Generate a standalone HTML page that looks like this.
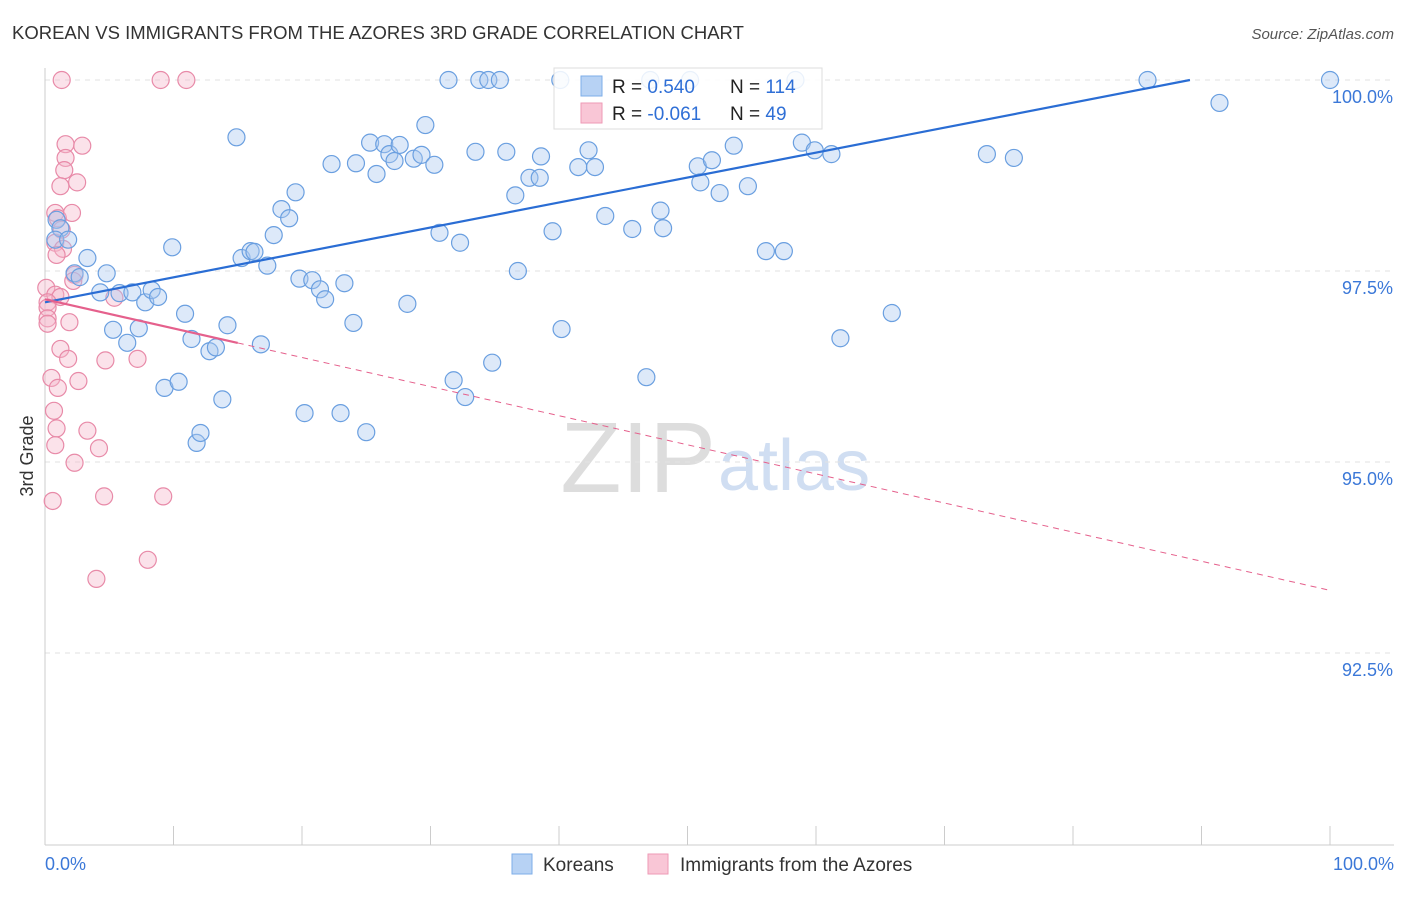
<!DOCTYPE html>
<html><head><meta charset="utf-8"><style>
body{margin:0;background:#fff;font-family:"Liberation Sans",sans-serif;}
svg text{font-family:"Liberation Sans",sans-serif;}
</style></head><body>
<svg id="chart" width="1406" height="892">
<text x="12" y="39" font-size="18.5" fill="#333">KOREAN VS IMMIGRANTS FROM THE AZORES 3RD GRADE CORRELATION CHART</text>
<text x="1394" y="39" font-size="15" fill="#555" font-style="italic" text-anchor="end">Source: ZipAtlas.com</text>
<text x="33" y="456" font-size="18" fill="#333" transform="rotate(-90 33 456)" text-anchor="middle">3rd Grade</text>
<text x="716" y="492" font-size="100" fill="#ddd" text-anchor="end" font-family="Liberation Serif">ZIP</text>
<text x="718" y="490" font-size="72" fill="#d0def2">atlas</text>
<g id="grid"></g><g id="axes"></g><g id="marks"></g>
<g>
<rect x="554" y="68" width="268" height="61" fill="#fff" fill-opacity="0.85" stroke="#ddd"/>
<rect x="581" y="76" width="21" height="20" fill="#b7d2f4" stroke="#7eaee8"/>
<rect x="581" y="103" width="21" height="20" fill="#f9c6d6" stroke="#ee9ab6"/>
<text x="612" y="93" font-size="19" fill="#222">R = <tspan fill="#2f6fd6">  0.540</tspan></text>
<text x="730" y="93" font-size="19" fill="#222">N = <tspan fill="#2f6fd6">114</tspan></text>
<text x="612" y="120" font-size="19" fill="#222">R = <tspan fill="#2f6fd6">-0.061</tspan></text>
<text x="730" y="120" font-size="19" fill="#222">N = <tspan fill="#2f6fd6"> 49</tspan></text>
</g>
<g>
<rect x="512" y="854" width="20" height="20" fill="#b7d2f4" stroke="#7eaee8"/>
<text x="543" y="871" font-size="19" fill="#333">Koreans</text>
<rect x="648" y="854" width="20" height="20" fill="#f9c6d6" stroke="#ee9ab6"/>
<text x="680" y="871" font-size="19" fill="#333">Immigrants from the Azores</text>
</g>
</svg>
<script>
const xTicks=[0,10,20,30,40,50,60,70,80,90,100];
const yTicks=[92.5,95,97.5,100];
const yTickLabels=["92.5%","95.0%","97.5%","100.0%"];
const koreanX=[0.9,1.2,0.8,1.8,2.3,2.7,3.3,4.3,4.8,5.3,5.8,6.4,6.8,7.3,7.8,8.3,8.8,9.3,9.9,10.4,10.9,11.4,11.8,12.1,12.8,13.3,13.8,14.2,14.9,15.3,16.0,16.3,16.8,17.3,17.8,18.4,19.0,19.5,19.8,20.2,20.8,21.4,21.8,22.3,23.0,23.3,24.0,24.2,25.0,25.3,25.8,26.4,26.8,27.2,27.6,28.2,28.7,29.3,29.6,30.3,30.7,31.4,31.8,32.3,32.7,33.5,33.8,34.5,34.8,35.4,35.9,36.6,36.8,37.7,38.5,38.6,39.5,40.1,40.2,41.5,42.3,42.8,43.6,45.7,46.8,47.1,47.9,48.1,50.2,50.8,51.0,51.9,52.5,53.6,54.7,56.1,57.5,58.4,58.9,59.9,61.2,61.9,65.9,73.3,75.4,85.8,91.4,100];
const koreanY=[98.17,98.06,97.91,97.91,97.47,97.42,97.67,97.22,97.47,96.73,97.21,96.56,97.22,96.75,97.09,97.25,97.16,95.97,97.81,96.05,96.94,96.61,95.25,95.38,96.45,96.50,95.82,96.79,99.25,97.67,97.76,97.75,96.54,97.57,97.97,98.31,98.19,98.53,97.40,95.64,97.38,97.26,97.13,98.90,95.64,97.34,96.82,98.91,95.39,99.18,98.77,99.16,99.03,98.94,99.15,97.07,98.97,99.02,99.41,98.89,98.0,100,96.07,97.87,95.85,99.06,100,100,96.30,100,99.06,98.49,97.50,98.72,98.72,99.0,98.02,100,96.74,98.86,99.08,98.86,98.22,98.05,96.11,100,98.29,98.06,100,98.87,98.66,98.95,98.52,99.14,98.61,97.76,97.76,100,99.18,99.08,99.03,96.62,96.95,99.03,98.98,100,99.70,100];
const azoresX=[1.3,9.0,11.0,1.6,2.9,1.6,1.5,2.5,1.2,0.8,1.0,2.1,1.3,0.8,1.4,0.9,2.3,2.2,0.1,0.8,1.2,0.2,0.2,5.4,0.2,1.9,0.2,1.2,1.8,4.7,7.2,0.5,2.6,1.0,0.7,0.9,3.3,0.8,4.2,2.3,4.6,9.2,0.6,8.0,4.0];
const azoresY=[100,100,100,99.16,99.14,98.98,98.82,98.66,98.61,98.26,98.19,98.26,98.04,97.87,97.79,97.71,97.45,97.37,97.28,97.19,97.16,97.09,97.02,97.15,96.88,96.83,96.81,96.48,96.35,96.33,96.35,96.10,96.06,95.97,95.67,95.44,95.41,95.22,95.18,94.99,94.55,94.55,94.49,93.72,93.47];
const koreanTrend=[97.09,100];
const koreanTrendEnd=89.1;
const azoresTrend=[97.13,93.32];
const azoresSolidEnd=15;

const NS="http://www.w3.org/2000/svg";
const X=v=>45+v*12.85;
const Y=v=>80+(100-v)*76.4;
function mk(tag,attrs,parent){const e=document.createElementNS(NS,tag);for(const k in attrs)e.setAttribute(k,attrs[k]);parent.appendChild(e);return e;}
const grid=document.getElementById('grid'),axes=document.getElementById('axes'),marks=document.getElementById('marks');
yTicks.forEach((t,i)=>{
 const l=mk('line',{x1:45,x2:1394,y1:Y(t),y2:Y(t),stroke:'#e2e2e2','stroke-dasharray':'5,5'},grid);
 
 
 const tx=mk('text',{x:1393,y:Y(t)+23,'font-size':18,fill:'#3b78d8','text-anchor':'end'},axes);
 tx.textContent=yTickLabels[i];
 
 
});
const al=mk('line',{x1:45,x2:45,y1:68,y2:845,stroke:'#ccc'},axes);


const bl=mk('line',{x1:45,x2:1394,y1:845,y2:845,stroke:'#ccc'},axes);


xTicks.forEach(t=>{
 const l=mk('line',{x1:X(t),x2:X(t),y1:826,y2:845,stroke:'#ccc'},axes);
 
 
});
[[0,'0.0%','start',45],[100,'100.0%','end',1394]].forEach(a=>{
 const tx=mk('text',{x:a[3],y:870,'font-size':18,fill:'#3b78d8','text-anchor':a[2]},axes);
 tx.textContent=a[1];
 
 
});
function pts(xs,ys,fill,stroke,name){
 xs.forEach((x,i)=>{
  const c=mk('circle',{cx:X(x),cy:Y(ys[i]),r:8.5,fill:fill,'fill-opacity':0.4,stroke:stroke,'stroke-width':1.2},marks);
  
  
 });
}
pts(azoresX,azoresY,'#f6b6ca','#e88aa8','azores-point');
pts(koreanX,koreanY,'#a9c8f0','#6a9fe0','korean-point');
const kl=mk('line',{x1:X(0),y1:Y(koreanTrend[0]),x2:X(koreanTrendEnd),y2:Y(koreanTrend[1]),stroke:'#2a6dd4','stroke-width':2.2},marks);


const az=v=>azoresTrend[0]+(azoresTrend[1]-azoresTrend[0])*v/100;
const p1=mk('line',{x1:X(0),y1:Y(az(0)),x2:X(azoresSolidEnd),y2:Y(az(azoresSolidEnd)),stroke:'#e5608c','stroke-width':2.2},marks);


const p2=mk('line',{x1:X(azoresSolidEnd),y1:Y(az(azoresSolidEnd)),x2:X(100),y2:Y(az(100)),stroke:'#e5608c','stroke-width':1,'stroke-dasharray':'6,5'},marks);


</script>
</body></html>
